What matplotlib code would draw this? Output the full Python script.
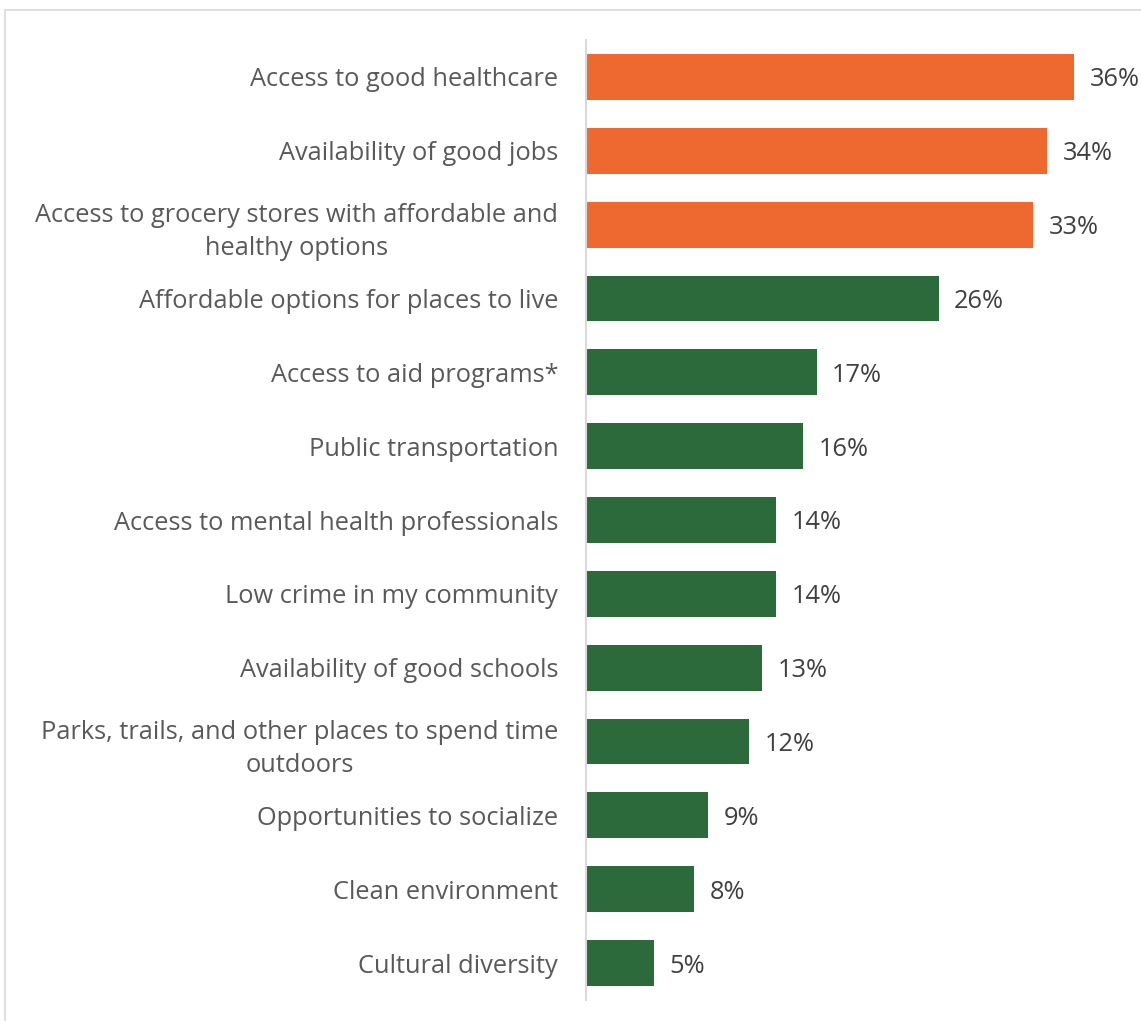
import matplotlib.pyplot as plt
from matplotlib.patches import Rectangle

categories = [
    "Access to good healthcare",
    "Availability of good jobs",
    "Access to grocery stores with affordable and\nhealthy options",
    "Affordable options for places to live",
    "Access to aid programs*",
    "Public transportation",
    "Access to mental health professionals",
    "Low crime in my community",
    "Availability of good schools",
    "Parks, trails, and other places to spend time\noutdoors",
    "Opportunities to socialize",
    "Clean environment",
    "Cultural diversity",
]
values = [36, 34, 33, 26, 17, 16, 14, 14, 13, 12, 9, 8, 5]
top_n = 3  # highlighted in orange

orange = "#ED692F"
green = "#2C6A3C"

fig = plt.figure(figsize=(11.41, 10.21), dpi=100)

# outer chart frame (light gray)
fig.patches.append(Rectangle((5 / 1141, -0.01), 1.1, 1 - 10 / 1021 + 0.01,
                             transform=fig.transFigure, fill=False,
                             edgecolor="#D9D9D9", linewidth=1.2))

ax = fig.add_axes([586 / 1141, 21 / 1021, 1 - 586 / 1141, 1 - 61 / 1021])
colors = [orange if i < top_n else green for i in range(len(values))]
ypos = list(range(len(values)))
ax.barh(ypos, values, height=0.62, color=colors)

ax.set_ylim(12.5, -0.5)
ax.set_xlim(0, (1141 - 586) / 13.56)
ax.set_yticks(ypos)
ax.set_yticklabels(categories, fontsize=18.3, color="#595959",
                   family="Open Sans", linespacing=1.45)
for lbl in ax.get_yticklabels():
    lbl.set_multialignment("center")
ax.tick_params(axis="y", length=0, pad=20)
ax.set_xticks([])
for s in ["top", "right", "bottom"]:
    ax.spines[s].set_visible(False)
ax.spines["left"].set_color("#D9D9D9")
ax.spines["left"].set_linewidth(1.5)

for y, v in zip(ypos, values):
    ax.text(v + 1.15, y + 0.04, f"{v}%", va="center", ha="left", fontsize=18.3,
            color="#404040", family="Open Sans")

plt.savefig("out.png", dpi=100)
